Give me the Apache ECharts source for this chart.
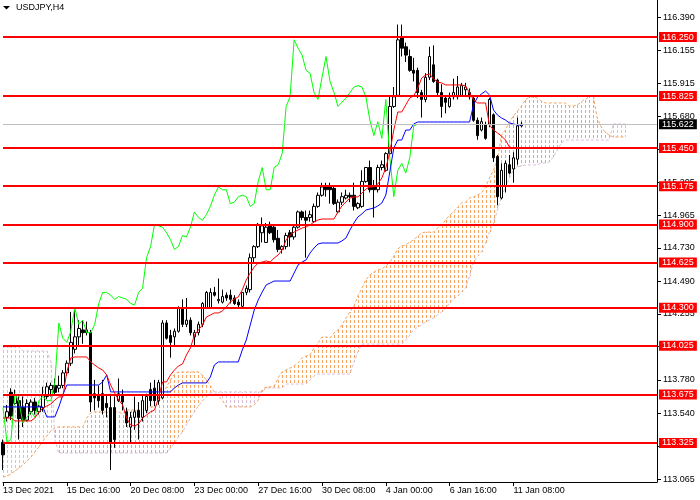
<!DOCTYPE html>
<html>
<head>
<meta charset="utf-8">
<script src="https://cdn.jsdelivr.net/npm/echarts@6/dist/echarts.min.js"></script>
<style>
  html, body { margin: 0; padding: 0; background: #fff; }
  #chartWrap { width: 700px; height: 500px; }
</style>
</head>
<body>
<div id="chartWrap"></div>
<script>
// USDJPY H4 with Ichimoku, one entry per H4 bar (bar 0 = 13 Dec 2021 00:00)
const barCount = 165;
const xLabelStep = 16;
const xLabels = ['13 Dec 2021', '15 Dec 16:00', '20 Dec 08:00', '23 Dec 00:00', '27 Dec 16:00',
    '30 Dec 08:00', '4 Jan 00:00', '6 Jan 16:00', '11 Jan 08:00'];
const yTicks = [113.065, 113.305, 113.540, 113.780, 114.020, 114.255, 114.490, 114.730,
    114.965, 115.205, 115.440, 115.680, 115.915, 116.155, 116.390];
const levels = [116.250, 115.825, 115.450, 115.175, 114.900, 114.625, 114.300, 114.025, 113.675, 113.325];
const lastPrice = 115.622;

const opens = [
    113.33, 113.51, 113.69, 113.61, 113.63, 113.58, 113.49, 113.55, 113.62, 113.55,
    113.58, 113.66, 113.71, 113.74, 113.72, 113.74, 113.83, 113.90, 114.00, 114.09,
    114.14, 114.12, 114.12, 113.68, 113.67, 113.68, 113.61, 113.58, 113.58, 113.63,
    113.67, 113.55, 113.44, 113.51, 113.56, 113.51, 113.56, 113.71, 113.72, 113.63,
    113.65, 114.19, 114.10, 114.09, 114.13, 114.30, 114.18, 114.21, 114.09, 114.12,
    114.18, 114.30, 114.30, 114.41, 114.35, 114.34, 114.39, 114.39, 114.37, 114.34,
    114.31, 114.41, 114.43, 114.66, 114.74, 114.84, 114.77, 114.90, 114.88, 114.80,
    114.72, 114.74, 114.84, 114.81, 114.88, 114.99, 114.95, 114.95, 114.92, 115.03,
    115.11, 115.17, 115.17, 115.16, 114.99, 115.06, 115.09, 115.11, 115.11, 115.02,
    115.03, 115.21, 115.31, 115.17, 115.15, 115.31, 115.29, 115.41, 115.75, 115.83,
    116.25, 116.18, 116.11, 116.01, 116.01, 115.85, 115.80, 115.96, 116.05, 115.94,
    115.85, 115.81, 115.75, 115.82, 115.82, 115.83, 115.87, 115.85, 115.81, 115.65,
    115.58, 115.62, 115.62, 115.69, 115.39, 115.09, 115.18, 115.33, 115.30, 115.37,
    115.61
];
const closes = [
    113.24, 113.55, 113.52, 113.67, 113.50, 113.49, 113.61, 113.62, 113.56, 113.59,
    113.67, 113.73, 113.74, 113.69, 113.74, 113.83, 113.90, 114.05, 114.09, 114.15,
    114.12, 114.14, 113.62, 113.65, 113.63, 113.56, 113.58, 113.33, 113.35, 113.68,
    113.62, 113.47, 113.51, 113.55, 113.51, 113.63, 113.66, 113.63, 113.63, 113.76,
    114.19, 114.08, 114.05, 114.13, 114.30, 114.18, 114.21, 114.12, 114.12, 114.18,
    114.33, 114.41, 114.41, 114.39, 114.36, 114.38, 114.37, 114.36, 114.33, 114.32,
    114.41, 114.44, 114.66, 114.74, 114.90, 114.89, 114.88, 114.84, 114.79, 114.72,
    114.74, 114.82, 114.81, 114.88, 114.99, 114.95, 114.93, 114.97, 115.03, 115.11,
    115.17, 115.15, 115.15, 115.05, 115.06, 115.10, 115.11, 115.10, 115.03, 115.05,
    115.21, 115.31, 115.15, 115.15, 115.31, 115.33, 115.41, 115.75, 115.82, 116.23,
    116.17, 116.12, 116.01, 115.99, 115.85, 115.80, 115.96, 116.11, 115.93, 115.85,
    115.75, 115.78, 115.81, 115.85, 115.89, 115.90, 115.89, 115.82, 115.65, 115.54,
    115.64, 115.52, 115.80, 115.38, 115.10, 115.29, 115.34, 115.27, 115.38, 115.61,
    115.622
];
const lows = [
    113.13, 113.48, 113.49, 113.60, 113.35, 113.44, 113.48, 113.53, 113.53, 113.53,
    113.55, 113.64, 113.66, 113.67, 113.69, 113.72, 113.81, 113.88, 113.97, 114.03,
    114.04, 114.10, 113.55, 113.56, 113.58, 113.53, 113.51, 113.13, 113.29, 113.62,
    113.56, 113.44, 113.33, 113.42, 113.35, 113.48, 113.54, 113.59, 113.59, 113.60,
    113.64, 114.07, 113.94, 114.03, 114.12, 114.16, 114.16, 114.10, 114.02, 114.10,
    114.16, 114.30, 114.30, 114.38, 114.33, 114.33, 114.35, 114.33, 114.32, 114.30,
    114.30, 114.39, 114.41, 114.62, 114.73, 114.77, 114.77, 114.83, 114.77, 114.70,
    114.69, 114.72, 114.74, 114.79, 114.87, 114.93, 114.66, 114.92, 114.91, 115.02,
    115.10, 115.10, 115.05, 115.04, 114.98, 115.04, 115.08, 115.06, 115.00, 115.01,
    115.02, 115.20, 115.13, 114.95, 115.13, 115.29, 115.28, 115.40, 115.74, 115.82,
    116.11, 116.07, 116.00, 115.93, 115.81, 115.67, 115.78, 115.94, 115.92, 115.83,
    115.67, 115.70, 115.74, 115.80, 115.80, 115.82, 115.83, 115.80, 115.64, 115.51,
    115.57, 115.51, 115.60, 115.35, 115.04, 115.08, 115.13, 115.26, 115.20, 115.33,
    115.60
];
const highs = [
    113.35, 113.60, 113.72, 113.71, 113.66, 113.66, 113.64, 113.64, 113.65, 113.60,
    113.73, 113.76, 113.76, 113.79, 113.81, 113.85, 113.92, 114.27, 114.28, 114.21,
    114.21, 114.20, 114.14, 113.78, 113.74, 113.78, 113.67, 113.68, 113.66, 113.79,
    113.71, 113.58, 113.55, 113.66, 113.62, 113.67, 113.68, 113.76, 113.78, 113.78,
    114.21, 114.21, 114.14, 114.15, 114.31, 114.36, 114.37, 114.23, 114.14, 114.20,
    114.34, 114.42, 114.44, 114.45, 114.51, 114.43, 114.41, 114.43, 114.39, 114.36,
    114.41, 114.46, 114.69, 114.75, 114.91, 114.95, 114.91, 114.92, 114.90, 114.86,
    114.75, 114.84, 114.86, 114.90, 115.00, 115.00, 115.00, 115.00, 115.05, 115.13,
    115.20, 115.20, 115.20, 115.17, 115.08, 115.13, 115.15, 115.13, 115.20, 115.06,
    115.29, 115.31, 115.36, 115.22, 115.33, 115.36, 115.42, 115.82, 115.89, 116.34,
    116.34, 116.21, 116.16, 116.10, 116.03, 115.87, 115.99, 116.18, 116.19, 115.95,
    115.91, 115.83, 115.85, 115.95, 115.97, 115.92, 115.92, 115.88, 115.83, 115.67,
    115.67, 115.64, 115.81, 115.70, 115.40, 115.34, 115.36, 115.40, 115.42, 115.67,
    115.64
];

// Tenkan-sen (red)
const tenkan = [
    113.505, 113.505, 113.505, 113.484, 113.484, 113.484, 113.484, 113.484, 113.505, 113.549,
    113.577, 113.592, 113.606, 113.635, 113.657, 113.657, 113.837, 113.938, 113.945, 113.945,
    113.945, 113.945, 113.909, 113.887, 113.866, 113.851, 113.815, 113.743, 113.685, 113.635,
    113.599, 113.505, 113.455, 113.448, 113.462, 113.505, 113.527, 113.549, 113.563, 113.649,
    113.765, 113.765, 113.815, 113.851, 113.880, 113.894, 113.959, 114.010, 114.103, 114.139,
    114.175, 114.233, 114.247, 114.262, 114.262, 114.276, 114.305, 114.341, 114.363, 114.377,
    114.428, 114.500, 114.550, 114.593, 114.622, 114.629, 114.637, 114.629, 114.658, 114.680,
    114.716, 114.788, 114.824, 114.845, 114.860, 114.874, 114.882, 114.896, 114.918, 114.932,
    114.939, 114.939, 114.939, 114.939, 114.990, 115.033, 115.062, 115.090, 115.098, 115.098,
    115.126, 115.155, 115.170, 115.170, 115.191, 115.235, 115.307, 115.422, 115.580, 115.710,
    115.710, 115.761, 115.811, 115.825, 115.883, 115.955, 115.977, 115.984, 115.948, 115.926,
    115.919, 115.905, 115.905, 115.905, 115.905, 115.905, 115.897, 115.847, 115.797, 115.775,
    115.775, 115.775, 115.616, 115.580, 115.559, 115.537, 115.508, 115.458, 115.451, 115.451,
    115.451
];
// Kijun-sen (blue)
const kijun = [
    113.585, 113.585, 113.585, 113.585, 113.585, 113.585, 113.585, 113.585, 113.585, 113.585,
    113.585, 113.513, 113.513, 113.513, 113.585, 113.671, 113.743, 113.743, 113.743, 113.743,
    113.743, 113.743, 113.743, 113.743, 113.743, 113.765, 113.815, 113.693, 113.693, 113.693,
    113.693, 113.693, 113.693, 113.693, 113.693, 113.693, 113.693, 113.693, 113.693, 113.693,
    113.693, 113.693, 113.693, 113.722, 113.743, 113.758, 113.758, 113.758, 113.758, 113.758,
    113.758, 113.758, 113.801, 113.887, 113.909, 113.909, 113.909, 113.909, 113.909, 113.909,
    113.995, 114.067, 114.175, 114.283, 114.356, 114.413, 114.464, 114.478, 114.492, 114.492,
    114.492, 114.492, 114.492, 114.550, 114.608, 114.629, 114.644, 114.694, 114.730, 114.759,
    114.766, 114.766, 114.766, 114.766, 114.766, 114.781, 114.802, 114.860, 114.910, 114.954,
    114.975, 115.004, 115.011, 115.018, 115.033, 115.054, 115.112, 115.278, 115.451, 115.508,
    115.508, 115.580, 115.580, 115.624, 115.638, 115.638, 115.638, 115.638, 115.638, 115.638,
    115.638, 115.638, 115.638, 115.638, 115.638, 115.638, 115.638, 115.638, 115.761, 115.818,
    115.840, 115.861, 115.833, 115.724, 115.688, 115.667, 115.652, 115.631, 115.624, 115.616,
    115.616
];
// Chikou span (green), plotted 26 bars back
const chikou = [
    113.58, 113.33, 113.35, 113.68, 113.62, 113.47, 113.51, 113.55, 113.51, 113.63,
    113.66, 113.63, 113.63, 113.76, 114.19, 114.08, 114.05, 114.13, 114.30, 114.18,
    114.21, 114.12, 114.12, 114.18, 114.33, 114.41, 114.41, 114.39, 114.36, 114.38,
    114.37, 114.36, 114.33, 114.32, 114.41, 114.44, 114.66, 114.74, 114.90, 114.89,
    114.88, 114.84, 114.79, 114.72, 114.74, 114.82, 114.81, 114.88, 114.99, 114.95,
    114.93, 114.97, 115.03, 115.11, 115.17, 115.15, 115.15, 115.05, 115.06, 115.10,
    115.11, 115.10, 115.03, 115.05, 115.21, 115.31, 115.15, 115.15, 115.31, 115.33,
    115.41, 115.75, 115.82, 116.23, 116.17, 116.12, 116.01, 115.99, 115.85, 115.80,
    115.96, 116.11, 115.93, 115.85, 115.75, 115.78, 115.81, 115.85, 115.89, 115.90,
    115.89, 115.82, 115.65, 115.54, 115.64, 115.52, 115.80, 115.38, 115.10, 115.29,
    115.34, 115.27, 115.38, 115.61, 115.622
];
// Senkou span A / B (cloud), already shifted 26 bars forward
const spanA = [
    113.080, 113.087, 113.102, 113.123, 113.145, 113.167, 113.195, 113.224, 113.260, 113.296,
    113.340, 113.376, 113.412, 113.433, 113.441, 113.441, 113.441, 113.441, 113.441, 113.441,
    113.441, 113.505, 113.541, 113.549, 113.549, 113.549, 113.549, 113.549, 113.549, 113.549,
    113.534, 113.563, 113.563, 113.563, 113.563, 113.585, 113.585, 113.585, 113.585, 113.613,
    113.671, 113.729, 113.779, 113.822, 113.837, 113.837, 113.837, 113.837, 113.837, 113.837,
    113.815, 113.779, 113.736, 113.693, 113.664, 113.635, 113.585, 113.585, 113.585, 113.585,
    113.585, 113.585, 113.585, 113.599, 113.635, 113.707, 113.729, 113.729, 113.736, 113.794,
    113.837, 113.851, 113.866, 113.880, 113.902, 113.938, 113.952, 113.959, 114.010, 114.046,
    114.089, 114.089, 114.082, 114.118, 114.139, 114.175, 114.226, 114.269, 114.312, 114.384,
    114.442, 114.500, 114.536, 114.557, 114.572, 114.579, 114.600, 114.629, 114.672, 114.723,
    114.745, 114.752, 114.773, 114.788, 114.817, 114.838, 114.845, 114.845, 114.845, 114.874,
    114.896, 114.932, 114.968, 114.990, 115.026, 115.054, 115.062, 115.090, 115.098, 115.112,
    115.126, 115.170, 115.235, 115.292, 115.364, 115.544, 115.580, 115.638, 115.681, 115.717,
    115.753, 115.797, 115.818, 115.818, 115.811, 115.789, 115.775, 115.775, 115.775, 115.775,
    115.775, 115.775, 115.753, 115.753, 115.761, 115.782, 115.804, 115.818, 115.833, 115.667,
    115.602, 115.566, 115.544, 115.530, 115.530, 115.530, 115.530
];
const spanB = [
    114.017, 114.017, 114.017, 114.017, 114.017, 113.988, 113.988, 113.988, 113.988, 113.988,
    113.988, 113.988, 113.909, 113.347, 113.253, 113.253, 113.253, 113.253, 113.253, 113.253,
    113.253, 113.253, 113.253, 113.253, 113.253, 113.253, 113.253, 113.253, 113.253, 113.253,
    113.253, 113.253, 113.253, 113.253, 113.253, 113.253, 113.253, 113.253, 113.253, 113.253,
    113.253, 113.253, 113.289, 113.325, 113.368, 113.404, 113.455, 113.505, 113.549, 113.592,
    113.628, 113.657, 113.685, 113.693, 113.693, 113.693, 113.693, 113.693, 113.693, 113.693,
    113.693, 113.693, 113.693, 113.693, 113.693, 113.693, 113.722, 113.722, 113.722, 113.722,
    113.722, 113.750, 113.750, 113.750, 113.750, 113.750, 113.750, 113.779, 113.808, 113.822,
    113.822, 113.822, 113.822, 113.822, 113.822, 113.822, 113.822, 113.822, 113.909, 113.981,
    114.038, 114.038, 114.038, 114.038, 114.038, 114.038, 114.038, 114.038, 114.038, 114.038,
    114.038, 114.067, 114.103, 114.139, 114.161, 114.175, 114.197, 114.211, 114.226, 114.247,
    114.269, 114.298, 114.334, 114.363, 114.384, 114.413, 114.442, 114.528, 114.629, 114.672,
    114.701, 114.766, 114.845, 114.910, 115.004, 115.098, 115.170, 115.235, 115.292, 115.314,
    115.321, 115.328, 115.328, 115.328, 115.328, 115.343, 115.343, 115.350, 115.386, 115.436,
    115.487, 115.508, 115.508, 115.508, 115.508, 115.508, 115.508, 115.508, 115.508, 115.508,
    115.508, 115.508, 115.508, 115.624, 115.624, 115.624, 115.624
];

const categories = [];
for (let i = 0; i < barCount; i++) {
    categories.push(String(i));
}
const candleData = opens.map(function (o, i) {
    return [o, closes[i], lows[i], highs[i]];
});
const cloudData = spanA.map(function (a, i) {
    return [i, a, spanB[i]];
});

const font = 'Liberation Sans';
const showXLabel = function (index) {
    return index % xLabelStep === 0 && index / xLabelStep < xLabels.length;
};

const myChart = echarts.init(document.getElementById('chartWrap'));

myChart.setOption({
    animation: false,
    backgroundColor: '#ffffff',
    grid: {left: 1, right: 43, top: 0, bottom: 18},
    graphic: [
        {type: 'polygon', shape: {points: [[3, 6], [10, 6], [6.5, 9.5]]}, style: {fill: '#000'}},
        {type: 'text', left: 16, top: 3, style: {text: 'USDJPY,H4', fill: '#000', font: '9px ' + font}}
    ],
    xAxis: {
        type: 'category',
        data: categories,
        boundaryGap: false,
        axisLine: {lineStyle: {color: '#000', width: 1}},
        axisTick: {show: true, length: 4, interval: showXLabel, lineStyle: {color: '#000'}},
        axisLabel: {
            interval: showXLabel,
            formatter: function (value, index) {
                return xLabels[index / xLabelStep];
            },
            align: 'left',
            margin: 4,
            color: '#000',
            fontSize: 9,
            fontFamily: font
        },
        splitLine: {show: false}
    },
    yAxis: {
        type: 'value',
        position: 'right',
        min: 113.044,
        max: 116.517,
        axisLine: {show: true, lineStyle: {color: '#000', width: 1}},
        axisTick: {show: true, length: 4, customValues: yTicks, lineStyle: {color: '#000'}},
        axisLabel: {
            customValues: yTicks,
            formatter: function (v) {
                return v.toFixed(3);
            },
            margin: 6,
            color: '#000',
            fontSize: 9,
            fontFamily: font
        },
        splitLine: {show: false}
    },
    series: [
        {
            name: 'cloud',
            type: 'custom',
            data: cloudData,
            encode: {x: 0, y: [1, 2]},
            z: 1,
            silent: true,
            renderItem: function (params, api) {
                const pa = api.coord([api.value(0), api.value(1)]);
                const pb = api.coord([api.value(0), api.value(2)]);
                const top = Math.round(Math.min(pa[1], pb[1]));
                const bot = Math.round(Math.max(pa[1], pb[1]));
                const x = Math.round(pa[0]) + 0.5;
                return {
                    type: 'line',
                    shape: {x1: x, y1: top, x2: x, y2: bot},
                    style: {
                        stroke: api.value(1) >= api.value(2) ? '#f4a460' : '#d8bfd8',
                        lineWidth: 1,
                        lineDash: [3, 2],
                        lineDashOffset: top % 5
                    }
                };
            }
        },
        {
            name: 'spanA', type: 'line', data: spanA, z: 2, symbol: 'none', silent: true,
            lineStyle: {color: '#f4a460', width: 1, type: [3, 2]}
        },
        {
            name: 'spanB', type: 'line', data: spanB, z: 2, symbol: 'none', silent: true,
            lineStyle: {color: '#d8bfd8', width: 1, type: [3, 2]}
        },
        {
            name: 'USDJPY',
            type: 'candlestick',
            data: candleData,
            z: 3,
            barWidth: 3,
            silent: true,
            itemStyle: {
                color: '#ffffff',
                color0: '#000000',
                borderColor: '#000000',
                borderColor0: '#000000',
                borderWidth: 1
            },
            markLine: {
                silent: true,
                symbol: ['none', 'none'],
                precision: 3,
                lineStyle: {color: '#c0c0c0', type: 'solid', width: 1},
                label: {
                    position: 'end',
                    distance: 2,
                    formatter: function (p) {
                        return Number(p.value).toFixed(3);
                    },
                    color: '#ffffff',
                    backgroundColor: '#000000',
                    fontSize: 9,
                    fontFamily: font,
                    lineHeight: 9,
                    padding: [1, 3, 0, 3]
                },
                data: [{yAxis: lastPrice}]
            }
        },
        {
            name: 'chikou', type: 'line', data: chikou, z: 4, symbol: 'none', silent: true,
            lineStyle: {color: '#00ff00', width: 1}
        },
        {
            name: 'kijun', type: 'line', data: kijun, z: 4, symbol: 'none', silent: true,
            lineStyle: {color: '#0000ff', width: 1}
        },
        {
            name: 'tenkan', type: 'line', data: tenkan, z: 4, symbol: 'none', silent: true,
            lineStyle: {color: '#ff0000', width: 1}
        },
        {
            name: 'levels',
            type: 'line',
            data: [],
            z: 10,
            markLine: {
                silent: true,
                symbol: ['none', 'none'],
                precision: 3,
                lineStyle: {color: '#ff0000', type: 'solid', width: 2},
                label: {
                    position: 'end',
                    distance: 2,
                    formatter: function (p) {
                        return Number(p.value).toFixed(3);
                    },
                    color: '#ffffff',
                    backgroundColor: '#ff0000',
                    fontSize: 9,
                    fontFamily: font,
                    lineHeight: 9,
                    padding: [1, 3, 0, 3]
                },
                data: levels.map(function (v) {
                    return {yAxis: v};
                })
            }
        }
    ]
});
</script>
</body>
</html>
